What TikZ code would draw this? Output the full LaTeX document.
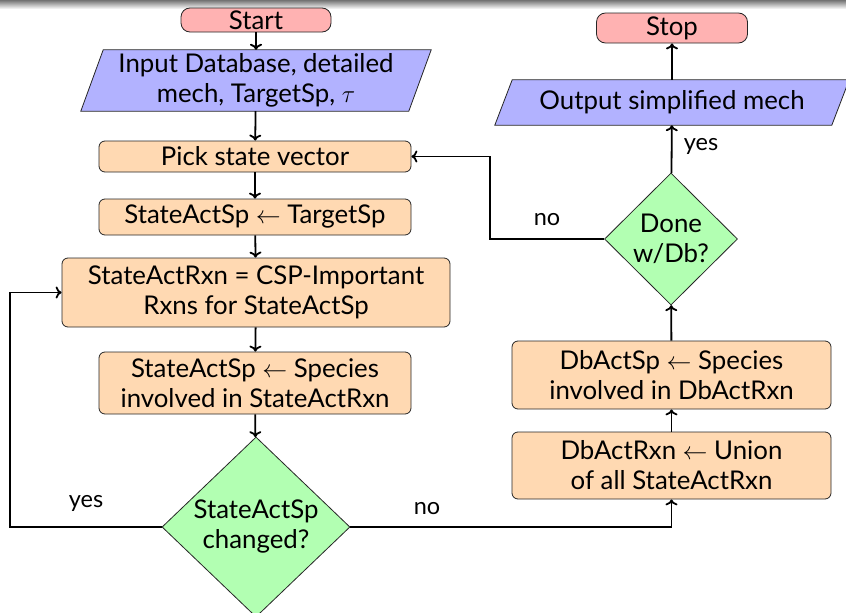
\documentclass[tikz,border=0pt]{standalone}
\usepackage{fontspec}
\setmainfont{Lato}
\usetikzlibrary{shapes.geometric,arrows.meta}
\pgfdeclarelayer{background}
\pgfsetlayers{background,main}
\begin{document}
\begin{tikzpicture}[x=1pt,y=-1pt,
  every node/.style={font=\fontsize{25.8}{30}\selectfont, inner sep=0pt, align=center},
  procbox/.style={draw=black!85, line width=0.8pt, fill=orange!30, rounded corners=6pt},
  termbox/.style={draw=black!85, line width=0.8pt, fill=red!30, rounded corners=9pt},
  iobox/.style={draw=black!85, line width=0.8pt, fill=blue!30},
  decbox/.style={diamond, draw=black!85, line width=0.8pt, fill=green!30},
  conn/.style={-{To[length=6pt,width=12pt]}, line width=1.8pt, black},
  lbl/.style={font=\fontsize{23.5}{26}\selectfont}]
\useasboundingbox (0,0) rectangle (846,613);
\shade[top color=black!55, bottom color=white] (0,0) rectangle (846,9);

% left column
\node[termbox, minimum width=150pt, minimum height=24pt] (start) at (256,20) {Start};
\node[minimum width=350pt, minimum height=61pt] (input) at (256,80.5) {Input Database, detailed\\mech, TargetSp, $\tau$};
\node[procbox, minimum width=312pt, minimum height=31pt] (pick) at (255,156.5) {Pick state vector};
\node[procbox, minimum width=312pt, minimum height=36pt] (act) at (255,217) {StateActSp $\leftarrow$ TargetSp};
\node[procbox, minimum width=388pt, minimum height=69pt] (rxn) at (256,292.5) {StateActRxn = CSP-Important\\Rxns for StateActSp};
\node[procbox, minimum width=312pt, minimum height=62pt] (spc) at (255,383) {StateActSp $\leftarrow$ Species\\involved in StateActRxn};
\node[decbox, minimum width=188pt, minimum height=180pt] (chg) at (256,527) {StateActSp\\changed?};

% right column
\node[termbox, minimum width=151pt, minimum height=30pt] (stop) at (672,28) {Stop};
\node[minimum width=354pt, minimum height=45pt] (output) at (672,102.5) {Output simplified mech};
\node[decbox, minimum width=133pt, minimum height=132pt] (done) at (671,239) {Done\\w/Db?};
\node[procbox, minimum width=319pt, minimum height=68pt] (dbsp) at (671.5,375) {DbActSp $\leftarrow$ Species\\involved in DbActRxn};
\node[procbox, minimum width=319pt, minimum height=67pt] (dbrxn) at (671.5,465.5) {DbActRxn $\leftarrow$ Union\\of all StateActRxn};

% parallelograms behind their texts
\begin{pgfonlayer}{background}
\draw[iobox] (input.south west) -- ++(328,0) -- (input.north east) -- ++(-328,0) -- cycle;
\draw[iobox] (output.south west) -- ++(337,0) -- (output.north east) -- ++(-337,0) -- cycle;
\end{pgfonlayer}

\coordinate (yesc) at (10,527);
\coordinate (noc) at (490,239);

% connectors
\draw[conn] (start) -- (input);
\draw[conn] (input) -- (pick);
\draw[conn] (pick) -- (act);
\draw[conn] (act) -- (rxn);
\draw[conn] (rxn) -- (spc);
\draw[conn] (spc) -- (chg);
\draw[conn] (chg.west) -- (yesc) |- (rxn.west);
\draw[conn] (chg.east) -| (dbrxn.south);
\draw[conn] (dbrxn) -- (dbsp);
\draw[conn] (dbsp) -- (done);
\draw[conn] (done.west) -- (noc) |- (pick.east);
\draw[conn] (done) -- (output);
\draw[conn] (output) -- (stop);

% labels
\node[lbl] (ly1) at (86,503) {yes};
\node[lbl] (ln1) at (427,509) {no};
\node[lbl] (ln2) at (547,220) {no};
\node[lbl] (ly2) at (701,146) {yes};
\end{tikzpicture}
\end{document}
